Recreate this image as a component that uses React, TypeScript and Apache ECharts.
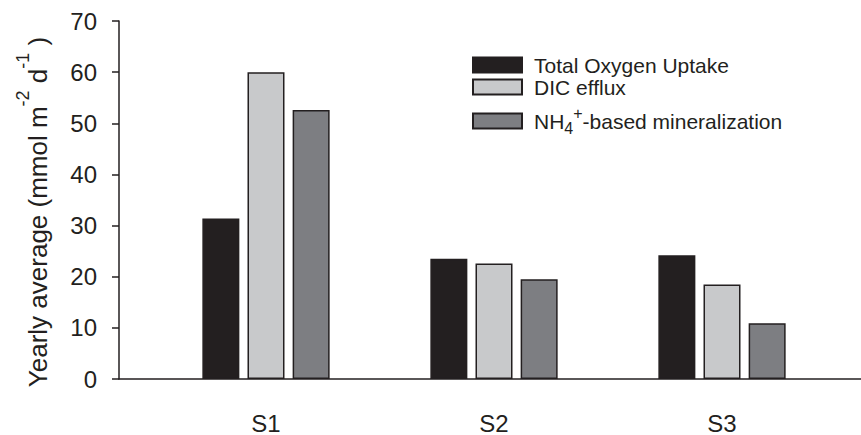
import React, { useEffect, useRef } from "react";
import * as echarts from "echarts";

const categories = ["S1", "S2", "S3"];
const categoryPositions = [1, 2, 3];
const seriesNames = ["Total Oxygen Uptake", "DIC efflux", "NH4+-based mineralization"];
const totalOxygenUptake = [31.4, 23.5, 24.2];
const dicEfflux = [60.0, 22.6, 18.5];
const nh4Mineralization = [52.6, 19.5, 10.9];
const yMin = 0;
const yMax = 70;
const yInterval = 10;

const FONT = "'Liberation Sans', Arial, Helvetica, sans-serif";
const INK = "#231f20";
const colors = ["#231f20", "#c8c9cb", "#7d7e82"];

export default function App() {
  const ref = useRef<HTMLDivElement>(null);
  useEffect(() => {
    if (!ref.current) return;
    const chart = echarts.init(ref.current, undefined, { renderer: "svg" });
    const allValues = [totalOxygenUptake, dicEfflux, nh4Mineralization];
    const legendTops = [54.5, 76.5, 105.5];
    const option: any = {
      animation: false,
      grid: { left: 119, right: 0, top: 21, bottom: 52, containLabel: false },
      xAxis: {
        type: "value",
        min: 0.3553,
        max: 3.6096,
        axisLine: { show: true, onZero: false, lineStyle: { color: INK, width: 1.5 } },
        axisTick: { show: false },
        splitLine: { show: false },
        axisLabel: {
          customValues: categoryPositions,
          formatter: (v: number) => categories[categoryPositions.indexOf(v)] ?? "",
          fontFamily: FONT,
          fontSize: 24,
          color: INK,
          margin: 32,
        },
      },
      yAxis: {
        type: "value",
        min: yMin,
        max: yMax,
        interval: yInterval,
        axisLine: { show: true, lineStyle: { color: INK, width: 1.5 } },
        axisTick: { show: true, length: 7, lineStyle: { color: INK, width: 1.5 } },
        splitLine: { show: false },
        axisLabel: { fontFamily: FONT, fontSize: 24, color: INK, margin: 22 },
      },
      legend: seriesNames.map((name, i) => ({
        data: [name],
        left: 472,
        top: legendTops[i],
        orient: "vertical",
        padding: 0,
        itemWidth: 49,
        itemHeight: 15,
        selectedMode: false,
        icon: "rect",
        formatter:
          i === 2
            ? () => "{m|NH}{sub|4}{sup|+}{m|-based mineralization}"
            : (n: string) => n,
        textStyle: {
          fontFamily: FONT,
          fontSize: 21,
          color: INK,
          padding: [0, 0, 0, 7],
          rich: {
            m: { fontFamily: FONT, fontSize: 21, color: INK, lineHeight: 24, verticalAlign: "middle" },
            sub: {
              fontFamily: FONT,
              fontSize: 16,
              color: INK,
              lineHeight: 31,
              padding: [15, 0, 0, 0],
              verticalAlign: "bottom",
            },
            sup: {
              fontFamily: FONT,
              fontSize: 16,
              color: INK,
              lineHeight: 31,
              padding: [0, 0, 15, 0],
              verticalAlign: "top",
            },
          },
        },
      })),
      graphic: [
        {
          type: "text",
          x: 32,
          y: 212,
          rotation: Math.PI / 2,
          style: {
            text: "{m|Yearly average (mmol m}{sup|-2}{m| d}{sup|-1}{m| )}",
            align: "center",
            verticalAlign: "middle",
            fill: INK,
            fontFamily: FONT,
            fontSize: 26,
            rich: {
              m: { fontFamily: FONT, fontSize: 26, fill: INK, lineHeight: 26, verticalAlign: "bottom" },
              sup: {
                fontFamily: FONT,
                fontSize: 18,
                fill: INK,
                lineHeight: 37,
                padding: [0, 0, 19, 0],
                verticalAlign: "top",
              },
            },
          },
        },
      ],
      series: seriesNames.map((name, i) => ({
        name,
        type: "bar",
        barWidth: 37,
        barGap: "22%",
        data: allValues[i].map((v, j) => [categoryPositions[j], v]),
        itemStyle: { color: colors[i], borderColor: INK, borderWidth: 1.5 },
      })),
    };
    chart.setOption(option);
    return () => chart.dispose();
  }, []);
  return (
    <div
      ref={ref}
      style={{ width: 861, height: 435, position: "absolute", left: 0, top: 0 }}
    />
  );
}
